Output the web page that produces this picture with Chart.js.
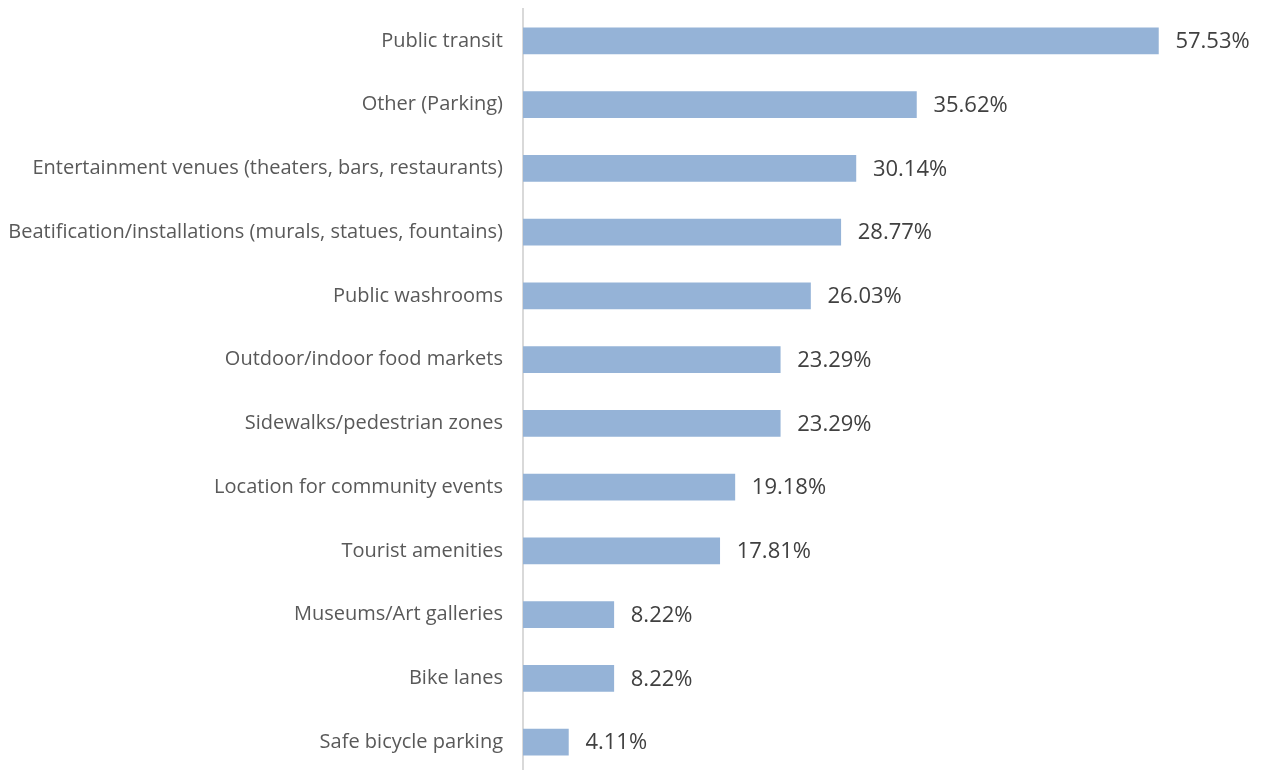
<!DOCTYPE html>
<html>
<head>
<meta charset="utf-8">
<script src="https://cdn.jsdelivr.net/npm/chart.js@4/dist/chart.umd.min.js"></script>
<style>
  html, body { margin: 0; padding: 0; background: #ffffff; overflow: hidden; }
  #wrap { width: 1263px; height: 783px; }
</style>
</head>
<body>
<div id="wrap"><canvas id="chart" width="1263" height="783"></canvas></div>
<script>
// Survey answers: share of respondents choosing each amenity
const categories = [
  "Public transit",
  "Other (Parking)",
  "Entertainment venues (theaters, bars, restaurants)",
  "Beatification/installations (murals, statues, fountains)",
  "Public washrooms",
  "Outdoor/indoor food markets",
  "Sidewalks/pedestrian zones",
  "Location for community events",
  "Tourist amenities",
  "Museums/Art galleries",
  "Bike lanes",
  "Safe bicycle parking"
];
const percentages = [57.53, 35.62, 30.14, 28.77, 26.03, 23.29, 23.29, 19.18, 17.81, 8.22, 8.22, 4.11];

const FONT = "'Open Sans', 'DejaVu Sans', sans-serif";

// Writes the percentage to the right of each bar
const valueLabels = {
  id: 'valueLabels',
  afterDatasetsDraw(chart) {
    const ctx = chart.ctx;
    const meta = chart.getDatasetMeta(0);
    ctx.save();
    ctx.font = "22px " + FONT;
    ctx.fillStyle = "#404040";
    ctx.textAlign = "left";
    ctx.textBaseline = "middle";
    meta.data.forEach((bar, i) => {
      const v = chart.data.datasets[0].data[i];
      ctx.fillText(v.toFixed(2) + "%", bar.x + 17, bar.y + 1);
    });
    ctx.restore();
  }
};

new Chart(document.getElementById('chart'), {
  type: 'bar',
  data: {
    labels: categories,
    datasets: [{
      data: percentages,
      backgroundColor: "#95B3D7",
      borderWidth: 0,
      barThickness: 26
    }]
  },
  options: {
    indexAxis: 'y',
    responsive: false,
    animation: false,
    layout: { padding: { top: 9, right: 0, bottom: 0, left: 0 } },
    plugins: {
      legend: { display: false },
      tooltip: { enabled: false }
    },
    scales: {
      x: {
        display: false,
        min: 0,
        max: 67
      },
      y: {
        afterFit(scale) { scale.width = 523; },
        grid: { display: false, drawTicks: true, tickLength: 20 },
        border: { display: true, color: "#d9d9d9", width: 2 },
        ticks: {
          padding: 0,
          color: "#595959",
          font: { family: FONT, size: 20, lineHeight: 0.9 }
        }
      }
    }
  },
  plugins: [valueLabels]
});
</script>
</body>
</html>
